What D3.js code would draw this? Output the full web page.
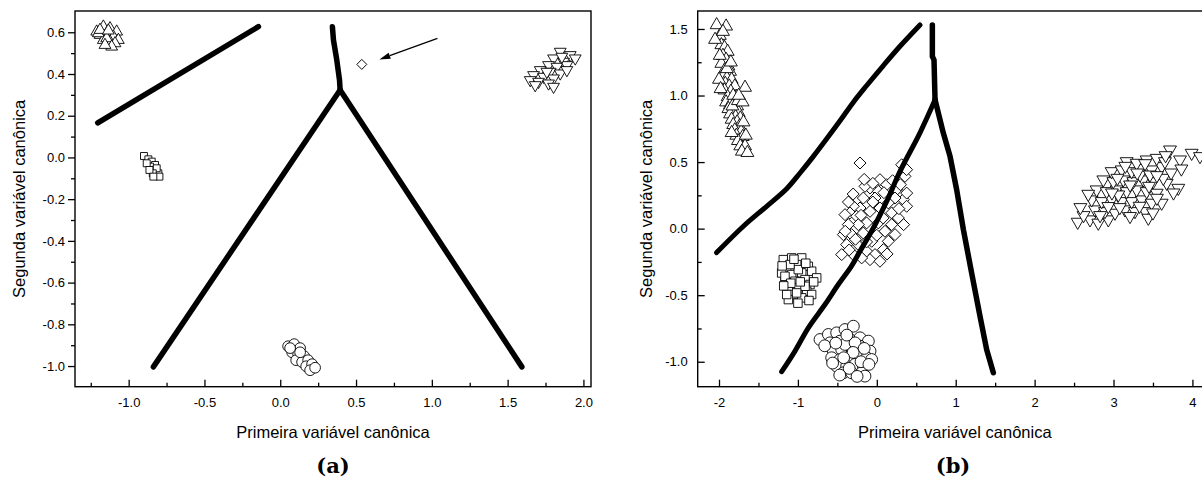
<!DOCTYPE html>
<html>
<head>
<meta charset="utf-8">
<script src="https://cdn.jsdelivr.net/npm/d3@7"></script>
<style>
  body { margin: 0; background: #fff; }
  svg { display: block; }
</style>
</head>
<body>
<script>
// ---------- panel (a) ----------
var aTicksX = [-1.0, -0.5, 0.0, 0.5, 1.0, 1.5, 2.0];
var aMinorX = [-1.25, -0.75, -0.25, 0.25, 0.75, 1.25, 1.75];
var aTicksY = [-1.0, -0.8, -0.6, -0.4, -0.2, 0.0, 0.2, 0.4, 0.6];
var aMinorY = [-0.9, -0.7, -0.5, -0.3, -0.1, 0.1, 0.3, 0.5];

var aTriUp = [[-1.211,0.603],[-1.167,0.627],[-1.123,0.619],[-1.079,0.603],[-1.189,0.587],
  [-1.145,0.595],[-1.101,0.579],[-1.068,0.563],[-1.167,0.563],[-1.123,0.555],[-1.090,0.547],
  [-1.200,0.595],[-1.145,0.571],[-1.112,0.531],[-1.156,0.539],[-1.189,0.611],[-1.134,0.608]];
var aSquares = [[-0.899,0.007],[-0.870,-0.009],[-0.848,-0.020],[-0.826,-0.036],[-0.859,-0.044],
  [-0.833,-0.060],[-0.804,-0.076],[-0.815,-0.052],[-0.881,-0.028],[-0.841,-0.076],
  [-0.797,-0.092],[-0.863,-0.060],[-0.837,-0.092]];
var aDiamonds = [[0.538,0.446]];
var aTriDown = [[1.847,0.507],[1.913,0.491],[1.946,0.475],[1.803,0.475],[1.869,0.459],
  [1.770,0.443],[1.825,0.435],[1.891,0.443],[1.715,0.419],[1.781,0.411],[1.847,0.403],
  [1.671,0.395],[1.737,0.387],[1.803,0.379],[1.649,0.371],[1.704,0.363],[1.770,0.355],
  [1.803,0.339],[1.682,0.347],[1.891,0.419],[1.759,0.411],[1.858,0.483]];
var aCircles = [[0.052,-0.905],[0.092,-0.895],[0.131,-0.914],[0.078,-0.934],[0.118,-0.943],
  [0.158,-0.953],[0.105,-0.972],[0.144,-0.981],[0.184,-0.972],[0.171,-1.001],[0.210,-0.991],
  [0.197,-1.020],[0.131,-0.934],[0.065,-0.914],[0.230,-1.008]];

var aLineTop = [[-1.204,0.166],[-0.144,0.627]];
var aLineStem = [[0.344,0.627],[0.351,0.563],[0.373,0.467],[0.391,0.371],[0.395,0.323]];
var aLineLeft = [[0.395,0.323],[-0.837,-1.004]];
var aLineRight = [[0.395,0.323],[1.594,-1.004]];
var aArrow = [[1.037,0.571],[0.654,0.470]];

// ---------- panel (b) ----------
var bTicksX = [-2, -1, 0, 1, 2, 3, 4];
var bMinorX = [-1.5, -0.5, 0.5, 1.5, 2.5, 3.5];
var bTicksY = [-1.0, -0.5, 0.0, 0.5, 1.0, 1.5];
var bMinorY = [-0.75, -0.25, 0.25, 0.75, 1.25];

var bTriUp = [[-2.03,1.53],[-1.91,1.52],[-1.99,1.45],[-1.97,1.38],[-1.93,1.36],[-1.89,1.33],
  [-1.95,1.30],[-1.91,1.27],[-1.97,1.24],[-1.88,1.22],[-1.93,1.19],[-1.86,1.18],[-1.95,1.15],
  [-1.90,1.13],[-1.84,1.12],[-1.92,1.09],[-1.87,1.07],[-1.80,1.07],[-1.93,1.04],[-1.85,1.03],
  [-1.78,0.99],[-1.89,0.99],[-1.82,0.96],[-1.91,0.95],[-1.86,0.93],[-1.77,0.92],[-1.88,0.90],
  [-1.81,0.88],[-1.75,0.87],[-1.86,0.86],[-1.79,0.84],[-1.73,0.83],[-1.84,0.82],[-1.77,0.80],
  [-1.82,0.78],[-1.74,0.77],[-1.80,0.74],[-1.72,0.73],[-1.78,0.70],[-1.70,0.69],[-1.76,0.66],
  [-1.73,0.62],[-1.67,0.62],[-1.71,0.58],[-1.64,0.57],[-1.83,0.92],[-1.90,1.20],[-1.82,1.00],
  [-1.76,0.96],[-1.67,1.06],[-1.70,0.95],[-2.00,1.12],[-1.98,1.05],[-2.05,1.42],[-1.95,1.48],
  [-1.85,1.25],[-1.99,1.30],[-1.75,1.00],[-1.69,0.80],[-1.66,0.70],[-1.84,0.72]];
var bDiamonds = [[-0.213,0.493],[0.040,0.368],[-0.086,0.305],[-0.150,0.318],[0.019,0.280],
  [0.125,0.330],[0.252,0.293],[0.357,0.393],[0.336,0.218],[0.378,0.168],[0.231,0.230],
  [0.146,0.193],[-0.023,0.230],[-0.171,0.230],[-0.213,0.155],[-0.298,0.168],[-0.340,0.118],
  [-0.403,0.105],[-0.255,0.093],[-0.086,0.130],[0.040,0.155],[0.188,0.118],[0.273,0.080],
  [0.188,0.030],[0.231,-0.045],[0.104,-0.020],[0.019,0.043],[-0.129,0.043],[-0.234,0.030],
  [-0.361,0.030],[-0.424,-0.045],[-0.319,-0.045],[-0.171,-0.033],[-0.065,-0.095],
  [-0.234,-0.120],[-0.382,-0.120],[-0.445,-0.195],[-0.298,-0.195],[-0.129,-0.170],
  [-0.023,-0.195],[0.083,-0.158],[0.146,-0.095],[-0.086,-0.233],[-0.192,-0.220],
  [0.040,-0.245],[0.315,0.480],[0.378,0.443],[0.379,0.267],[-0.36,0.20],[-0.30,0.26],
  [-0.05,0.34],[0.09,0.27],[0.20,0.36],[0.30,0.33],[-0.40,-0.02],[-0.27,-0.08],[-0.13,-0.10],
  [0.00,-0.05],[0.08,0.08],[-0.05,0.20],[-0.20,0.10],[0.28,0.15],[-0.35,-0.16],[-0.16,0.37],
  [0.13,-0.19],[0.34,0.03]];
var bSquares = [[-1.185,-0.233],[-1.079,-0.220],[-0.952,-0.220],[-1.142,-0.295],[-1.016,-0.270],
  [-0.868,-0.283],[-1.206,-0.333],[-1.079,-0.345],[-0.952,-0.333],[-0.826,-0.320],
  [-0.762,-0.370],[-1.164,-0.395],[-1.037,-0.395],[-0.910,-0.383],[-0.847,-0.420],
  [-1.121,-0.445],[-0.995,-0.445],[-0.889,-0.470],[-1.058,-0.495],[-0.952,-0.520],
  [-1.121,-0.533],[-0.826,-0.495],[-1.164,-0.358],[-0.995,-0.308],[-1.100,-0.270],
  [-0.910,-0.433],[-1.016,-0.483],[-1.142,-0.495],[-1.20,-0.28],[-1.05,-0.23],[-0.90,-0.26],
  [-0.80,-0.40],[-0.97,-0.40],[-1.09,-0.41],[-0.86,-0.54],[-1.00,-0.56],[-1.18,-0.43]];
var bCircles = [[-0.720,-0.833],[-0.614,-0.795],[-0.509,-0.783],[-0.403,-0.758],[-0.297,-0.733],
  [-0.593,-0.858],[-0.466,-0.845],[-0.340,-0.833],[-0.213,-0.820],[-0.107,-0.845],
  [-0.551,-0.920],[-0.445,-0.908],[-0.319,-0.895],[-0.213,-0.883],[-0.086,-0.920],
  [-0.572,-0.970],[-0.466,-0.983],[-0.340,-0.958],[-0.234,-0.958],[-0.128,-0.970],
  [-0.065,-0.983],[-0.509,-1.033],[-0.382,-1.033],[-0.276,-1.020],[-0.171,-1.033],
  [-0.424,-1.083],[-0.319,-1.083],[-0.192,-1.083],[-0.150,-1.108],[-0.403,-0.870],
  [-0.276,-0.858],[-0.66,-0.88],[-0.52,-0.86],[-0.38,-0.80],[-0.16,-0.90],[-0.30,-0.93],
  [-0.42,-0.97],[-0.20,-1.00],[-0.35,-1.05],[-0.25,-1.11],[-0.10,-1.02],[-0.56,-1.01],
  [-0.47,-1.10]];
var bTriDown = [[2.546,0.050],[2.702,0.068],[2.807,0.043],[2.934,0.068],[2.765,0.143],
  [2.892,0.130],[3.019,0.118],[3.145,0.143],[3.272,0.130],[3.399,0.130],[2.723,0.218],
  [2.850,0.205],[2.976,0.218],[3.103,0.205],[3.230,0.205],[3.357,0.218],[3.483,0.193],
  [3.610,0.193],[2.786,0.293],[2.913,0.280],[3.040,0.293],[3.167,0.280],[3.293,0.293],
  [3.420,0.280],[3.547,0.268],[3.674,0.343],[3.821,0.305],[2.871,0.368],[2.998,0.355],
  [3.124,0.368],[3.251,0.355],[3.378,0.368],[3.505,0.355],[3.631,0.380],[2.976,0.430],
  [3.103,0.443],[3.230,0.430],[3.357,0.455],[3.483,0.443],[3.610,0.468],[3.167,0.505],
  [3.293,0.493],[3.420,0.518],[3.547,0.530],[3.652,0.505],[3.716,0.593],[3.843,0.518],
  [3.990,0.568],[4.096,0.543],[3.061,0.255],[3.441,0.080],[2.934,0.168],[3.209,0.093],
  [3.336,0.405],[3.462,0.405],[2.62,0.10],[2.83,0.10],[3.08,0.16],[3.33,0.17],[3.55,0.23],
  [2.68,0.26],[2.98,0.27],[3.21,0.33],[3.45,0.32],[3.73,0.42],[3.05,0.38],[3.30,0.42],
  [3.55,0.40],[3.15,0.47],[3.40,0.49],[3.66,0.55],[3.86,0.45],[2.58,0.16],[3.76,0.27],
  [3.50,0.12]];

var bCurve = [[-2.03,-0.18],[-1.691,0.018],[-1.396,0.168],[-1.142,0.300],
  [-0.973,0.418],[-0.804,0.543],[-0.635,0.675],[-0.466,0.810],[-0.297,0.950],
  [-0.128,1.075],[0.083,1.225],[0.294,1.370],[0.547,1.53]];
var bStem = [[0.704,1.53],[0.704,1.293],[0.725,1.268],[0.738,0.968]];
var bLeft = [[0.738,0.968],[0.547,0.72],[0.294,0.43],[0.125,0.205],[-0.044,0.005],
  [-0.213,-0.17],[-0.319,-0.28],[-0.488,-0.42],[-0.657,-0.57],[-0.868,-0.745],
  [-1.037,-0.92],[-1.206,-1.075]];
var bRight = [[0.738,0.968],[0.843,0.718],[0.928,0.543],[1.012,0.293],[1.097,-0.007],
  [1.202,-0.333],[1.308,-0.658],[1.392,-0.908],[1.477,-1.083]];

var xTitle = "Primeira variável canônica";
var yTitle = "Segunda variável canônica";
var sans = "'Liberation Sans', Arial, sans-serif";

var svg = d3.select("body").append("svg")
  .attr("width", 1202)
  .attr("height", 481);

var fmt1 = function(d) { return d.toFixed(1); };
var fmt0 = function(d) { return d.toFixed(0); };

function drawPanel(o) {
  var x = d3.scaleLinear().domain(o.xDomain).range([o.left, o.right]);
  var y = d3.scaleLinear().domain(o.yDomain).range([o.bottom, o.top]);
  var g = svg.append("g");

  // scatter groups
  o.series.forEach(function(s) {
    g.append("g").selectAll("path")
      .data(s.data)
      .enter().append("path")
      .attr("d", d3.symbol().type(s.type).size(s.size)())
      .attr("transform", function(d) {
        return "translate(" + x(d[0]) + "," + y(d[1]) + ") rotate(" + (s.rot || 0) + ")";
      })
      .attr("fill", "#fff")
      .attr("stroke", "#000")
      .attr("stroke-width", 0.9);
  });

  // boundary lines
  o.lines.forEach(function(l) {
    var line = d3.line()
      .x(function(d) { return x(d[0]); })
      .y(function(d) { return y(d[1]); })
      .curve(l.smooth ? d3.curveCatmullRom : d3.curveLinear);
    g.append("path")
      .attr("d", line(l.data))
      .attr("fill", "none")
      .attr("stroke", "#000")
      .attr("stroke-width", l.w)
      .attr("stroke-linecap", "round")
      .attr("stroke-linejoin", "round");
  });

  // arrow
  if (o.arrow) {
    var x0 = x(o.arrow[0][0]), y0 = y(o.arrow[0][1]);
    var x1 = x(o.arrow[1][0]), y1 = y(o.arrow[1][1]);
    var ang = Math.atan2(y1 - y0, x1 - x0);
    var hl = 11, hw = 3.2;
    var bx = x1 - hl * Math.cos(ang), by = y1 - hl * Math.sin(ang);
    g.append("line")
      .attr("x1", x0).attr("y1", y0).attr("x2", bx).attr("y2", by)
      .attr("stroke", "#000").attr("stroke-width", 1.2);
    g.append("path")
      .attr("d", "M" + x1 + "," + y1 +
        "L" + (bx + hw * Math.sin(ang)) + "," + (by - hw * Math.cos(ang)) +
        "L" + (bx - hw * Math.sin(ang)) + "," + (by + hw * Math.cos(ang)) + "Z")
      .attr("fill", "#000");
  }

  // frame
  g.append("rect")
    .attr("x", o.left).attr("y", o.top)
    .attr("width", o.frameRight - o.left).attr("height", o.bottom - o.top)
    .attr("fill", "none").attr("stroke", "#000").attr("stroke-width", 1.4);

  // x axis
  var gx = g.append("g").attr("transform", "translate(0," + o.bottom + ")");
  gx.call(d3.axisBottom(x).tickValues(o.xTicks).tickSize(-7).tickPadding(11).tickFormat(o.xFmt));
  gx.append("g").call(d3.axisBottom(x).tickValues(o.xMinor).tickSize(-4).tickFormat(""));
  // y axis
  var gy = g.append("g").attr("transform", "translate(" + o.left + ",0)");
  gy.call(d3.axisLeft(y).tickValues(o.yTicks).tickSize(o.yTick).tickPadding(o.yPad).tickFormat(o.yFmt));
  gy.append("g").call(d3.axisLeft(y).tickValues(o.yMinor).tickSize(o.yTick * 4 / 7).tickFormat(""));

  g.selectAll(".domain").remove();
  g.selectAll(".tick line").attr("stroke", "#000").attr("stroke-width", 1.3);
  g.selectAll(".tick text")
    .style("font-family", sans)
    .style("font-size", "13px")
    .attr("fill", "#000");

  // titles
  g.append("text")
    .attr("x", (o.left + o.titleRight) / 2).attr("y", 438)
    .attr("text-anchor", "middle")
    .style("font-family", sans).style("font-size", "16.5px")
    .text(xTitle);
  g.append("text")
    .attr("transform", "translate(" + o.yTitleX + "," + ((o.top + o.bottom) / 2) + ") rotate(-90)")
    .attr("text-anchor", "middle")
    .style("font-family", sans).style("font-size", "16.5px")
    .text(yTitle);
  g.append("text")
    .attr("x", o.labelX).attr("y", 473)
    .attr("text-anchor", "middle")
    .style("font-family", "'DejaVu Serif', 'Liberation Serif', serif")
    .style("font-weight", "bold")
    .style("font-size", "21px")
    .text(o.label);
}

drawPanel({
  left: 75, right: 591, frameRight: 591, titleRight: 591, top: 11, bottom: 386.7,
  xDomain: [-1.354, 2.05], yDomain: [-1.099, 0.702],
  xTicks: aTicksX, xMinor: aMinorX, yTicks: aTicksY, yMinor: aMinorY,
  xFmt: fmt1, yFmt: fmt1, yTick: 7, yPad: 3,
  yTitleX: 25, labelX: 333, label: "(a)",
  series: [
    { data: aTriUp, type: d3.symbolTriangle, size: 60 },
    { data: aSquares, type: d3.symbolSquare, size: 48 },
    { data: aDiamonds, type: d3.symbolSquare, size: 50, rot: 45 },
    { data: aTriDown, type: d3.symbolTriangle, size: 60, rot: 180 },
    { data: aCircles, type: d3.symbolCircle, size: 90 }
  ],
  lines: [
    { data: aLineTop, w: 5.5 }, { data: aLineStem, w: 5.5 },
    { data: aLineLeft, w: 5.5 }, { data: aLineRight, w: 5.5 }
  ],
  arrow: aArrow
});

drawPanel({
  left: 697.7, right: 1208.2, frameRight: 1210, titleRight: 1212, top: 11, bottom: 386.7,
  xDomain: [-2.27, 4.2], yDomain: [-1.1875, 1.635],
  xTicks: bTicksX, xMinor: bMinorX, yTicks: bTicksY, yMinor: bMinorY,
  xFmt: fmt0, yFmt: fmt1, yTick: -7, yPad: 10,
  yTitleX: 652, labelX: 953, label: "(b)",
  series: [
    { data: bTriUp, type: d3.symbolTriangle, size: 72 },
    { data: bDiamonds, type: d3.symbolSquare, size: 72, rot: 45 },
    { data: bSquares, type: d3.symbolSquare, size: 72 },
    { data: bCircles, type: d3.symbolCircle, size: 110 },
    { data: bTriDown, type: d3.symbolTriangle, size: 72, rot: 180 }
  ],
  lines: [
    { data: bCurve, w: 5, smooth: true }, { data: bStem, w: 5.5 },
    { data: bLeft, w: 5, smooth: true }, { data: bRight, w: 5.5 }
  ]
});
</script>
</body>
</html>
